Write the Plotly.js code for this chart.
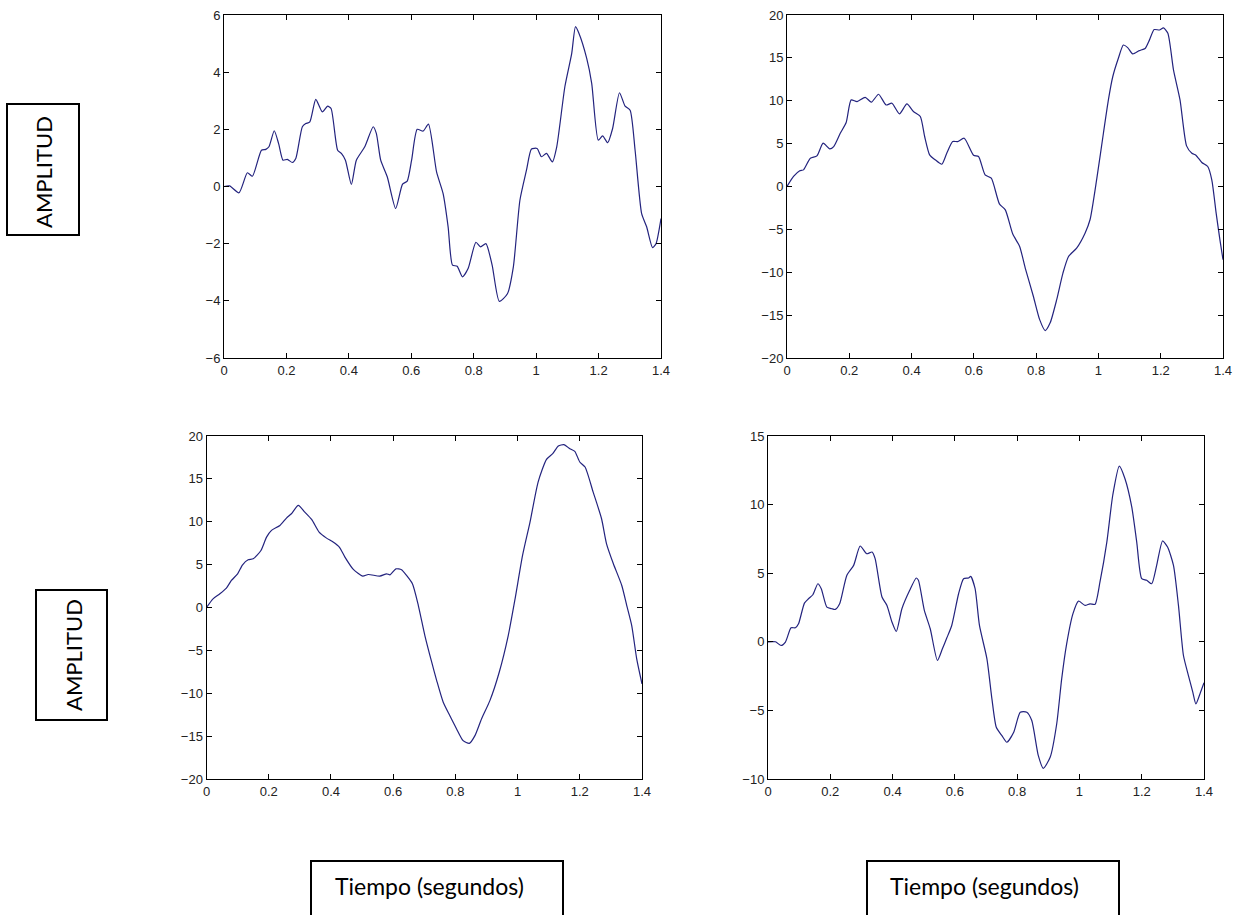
<!DOCTYPE html>
<html>
<head>
<meta charset="utf-8">
<script src="https://cdn.plot.ly/plotly-3.0.1.min.js"></script>
<style>html,body{margin:0;padding:0;background:#fff;}#chart{width:1236px;height:915px;}</style>
</head>
<body>
<div id="chart"></div>
<script>
// ---- Data ----
const tA = [0,0.018,0.048,0.075,0.091,0.12,0.134,0.144,0.161,0.175,0.189,0.203,0.219,0.23,0.251,0.262,0.275,0.294,0.315,0.332,0.343,0.364,0.376,0.389,0.408,0.424,0.451,0.478,0.488,0.502,0.523,0.55,0.572,0.587,0.601,0.619,0.638,0.655,0.681,0.702,0.718,0.732,0.747,0.764,0.782,0.807,0.822,0.839,0.859,0.882,0.908,0.927,0.948,0.969,0.985,1.003,1.017,1.033,1.052,1.066,1.092,1.114,1.126,1.137,1.162,1.178,1.199,1.213,1.229,1.245,1.267,1.285,1.301,1.317,1.338,1.354,1.373,1.384,1.4];
const yA = [0,0.02,-0.22,0.48,0.36,1.27,1.3,1.39,1.95,1.5,0.92,0.95,0.84,0.98,2.09,2.2,2.26,3.05,2.61,2.81,2.73,1.27,1.16,0.92,0.07,0.92,1.39,2.09,1.86,0.92,0.34,-0.77,0.08,0.19,0.92,2.0,1.94,2.18,0.51,-0.25,-1.41,-2.75,-2.79,-3.16,-2.87,-1.95,-2.11,-2.0,-2.75,-4.02,-3.75,-2.81,-0.48,0.57,1.31,1.33,1.04,1.16,0.86,1.39,3.49,4.66,5.59,5.36,4.48,3.61,1.62,1.77,1.53,2.03,3.28,2.81,2.67,1.27,-0.95,-1.41,-2.14,-2.0,-1.12];

const tB = [0,0.021,0.041,0.053,0.075,0.096,0.116,0.137,0.15,0.171,0.19,0.206,0.225,0.251,0.271,0.294,0.318,0.337,0.361,0.385,0.406,0.428,0.442,0.458,0.476,0.497,0.513,0.532,0.548,0.569,0.599,0.615,0.636,0.656,0.682,0.701,0.725,0.747,0.765,0.791,0.811,0.829,0.845,0.866,0.886,0.904,0.93,0.957,0.973,0.995,1.016,1.032,1.046,1.064,1.08,1.094,1.11,1.131,1.15,1.164,1.179,1.196,1.209,1.223,1.241,1.262,1.283,1.3,1.313,1.332,1.351,1.364,1.378,1.39,1.4];
const yB = [0,1.17,1.83,1.94,3.3,3.57,5.05,4.39,4.66,6.21,7.46,10.1,9.9,10.4,9.83,10.76,9.51,9.71,8.47,9.63,8.74,8.16,5.83,3.69,3.11,2.6,3.88,5.24,5.24,5.63,3.65,3.5,1.36,0.97,-2.02,-2.72,-5.55,-6.99,-9.51,-12.8,-15.5,-16.8,-15.9,-13.2,-10.1,-8.16,-7.18,-5.44,-3.88,0.97,6.21,10.1,12.8,14.95,16.5,16.2,15.46,15.84,16.1,17.1,18.3,18.25,18.5,17.86,13.6,10.1,4.74,3.88,3.65,2.8,2.33,0.78,-3.1,-6.2,-8.54];

const tC = [0,0.021,0.043,0.064,0.08,0.1,0.116,0.134,0.15,0.175,0.193,0.209,0.236,0.257,0.273,0.295,0.316,0.338,0.362,0.386,0.407,0.427,0.445,0.472,0.502,0.52,0.557,0.579,0.59,0.609,0.627,0.643,0.662,0.681,0.702,0.724,0.74,0.761,0.782,0.804,0.825,0.845,0.863,0.884,0.911,0.941,0.97,0.992,1.016,1.04,1.066,1.093,1.113,1.131,1.149,1.168,1.184,1.2,1.217,1.243,1.27,1.286,1.308,1.335,1.351,1.367,1.383,1.4];
const yC = [0,1.01,1.6,2.26,3.15,3.93,4.98,5.56,5.68,6.65,8.21,8.99,9.57,10.43,10.93,11.91,11.13,10.27,8.79,8.09,7.63,7.04,5.88,4.44,3.66,3.85,3.66,3.93,3.81,4.51,4.4,3.74,2.76,0.23,-3.27,-6.38,-8.52,-11.05,-12.6,-14.16,-15.53,-15.84,-14.94,-13.0,-10.86,-7.55,-3.27,1.01,6.07,9.96,14.63,17.28,17.94,18.83,18.99,18.52,18.21,16.97,16.38,13.46,10.35,7.43,5.1,2.57,0.23,-2.1,-5.99,-8.91];

const tD = [0,0.024,0.042,0.056,0.074,0.088,0.098,0.117,0.13,0.144,0.16,0.171,0.189,0.205,0.216,0.23,0.253,0.275,0.296,0.317,0.334,0.344,0.366,0.382,0.398,0.412,0.43,0.455,0.476,0.483,0.502,0.521,0.544,0.56,0.574,0.59,0.612,0.628,0.644,0.651,0.665,0.679,0.703,0.719,0.733,0.751,0.767,0.789,0.81,0.831,0.847,0.868,0.884,0.906,0.927,0.943,0.959,0.979,0.997,1.018,1.034,1.05,1.066,1.088,1.107,1.128,1.146,1.168,1.184,1.2,1.216,1.232,1.248,1.267,1.283,1.302,1.318,1.334,1.35,1.364,1.374,1.387,1.4];
const yD = [0,0,-0.27,-0.02,1.02,1.02,1.31,2.82,3.14,3.43,4.23,3.87,2.53,2.41,2.36,2.77,4.84,5.57,6.98,6.42,6.54,6.06,3.26,2.65,1.44,0.75,2.41,3.75,4.65,4.48,2.29,0.95,-1.36,-0.51,0.27,1.19,3.5,4.6,4.65,4.77,3.87,1.19,-1.24,-4.16,-6.23,-6.84,-7.32,-6.59,-5.13,-5.13,-5.74,-8.3,-9.22,-8.42,-5.99,-2.7,-0.15,2.04,2.97,2.65,2.77,2.73,4.36,7.27,10.68,12.8,11.9,9.83,7.27,4.6,4.48,4.23,5.57,7.35,6.91,5.57,2.65,-1.0,-2.46,-3.67,-4.53,-3.8,-2.99];

const xTicks = [0,0.2,0.4,0.6,0.8,1,1.2,1.4];
const yLabel = "AMPLITUD";
const xLabel = "Tiempo (segundos)";

// ---- Styling ----
const lineColor = '#23237e';
const tickFont = {family:'Liberation Sans, Arial, sans-serif', size:13, color:'#222'};
function axis(extra){
  return Object.assign({
    showline:true, linecolor:'#000', linewidth:1, mirror:'ticks',
    ticks:'inside', ticklen:5, tickcolor:'#000', tickwidth:1,
    showgrid:false, zeroline:false, tickfont:tickFont, fixedrange:true
  }, extra);
}
function trace(t, y, xa, ya){
  return {x:t, y:y, xaxis:xa, yaxis:ya, type:'scatter', mode:'lines',
          line:{color:lineColor, width:1.2, shape:'spline', smoothing:0.6},
          hoverinfo:'skip', showlegend:false};
}
const W = 1236, H = 915;
const px = v => v / W;
const py = v => 1 - v / H;

const data = [
  trace(tA, yA, 'x', 'y'),
  trace(tB, yB, 'x2', 'y2'),
  trace(tC, yC, 'x3', 'y3'),
  trace(tD, yD, 'x4', 'y4')
];

const labelFontY = {family:'Lato, Open Sans, sans-serif', size:22, color:'#000'};
const labelFontX = {family:'Lato, Open Sans, sans-serif', size:23, color:'#000'};
const xBase = {range:[0,1.4], tickvals:xTicks};
const layout = {
  width:W, height:H,
  margin:{l:0, r:0, t:0, b:0},
  paper_bgcolor:'#fff', plot_bgcolor:'#fff',
  showlegend:false,
  xaxis:  axis(Object.assign({domain:[px(224), px(661)], anchor:'y'}, xBase)),
  yaxis:  axis({domain:[py(358), py(15)], anchor:'x', range:[-6,6], dtick:2, tick0:0}),
  xaxis2: axis(Object.assign({domain:[px(787), px(1223)], anchor:'y2'}, xBase)),
  yaxis2: axis({domain:[py(358), py(15)], anchor:'x2', range:[-20,20], dtick:5, tick0:0}),
  xaxis3: axis(Object.assign({domain:[px(206.5), px(642)], anchor:'y3'}, xBase)),
  yaxis3: axis({domain:[py(779), py(436)], anchor:'x3', range:[-20,20], dtick:5, tick0:0}),
  xaxis4: axis(Object.assign({domain:[px(768), px(1204)], anchor:'y4'}, xBase)),
  yaxis4: axis({domain:[py(779), py(436)], anchor:'x4', range:[-10,15], dtick:5, tick0:0}),
  shapes:[
    {type:'rect', xref:'paper', yref:'paper', x0:px(7), x1:px(79), y0:py(235), y1:py(104), line:{color:'#000', width:2}},
    {type:'rect', xref:'paper', yref:'paper', x0:px(36), x1:px(107), y0:py(720), y1:py(590), line:{color:'#000', width:2}},
    {type:'rect', xref:'paper', yref:'paper', x0:px(311), x1:px(563), y0:py(925), y1:py(861), line:{color:'#000', width:2}},
    {type:'rect', xref:'paper', yref:'paper', x0:px(867), x1:px(1119), y0:py(925), y1:py(861), line:{color:'#000', width:2}}
  ],
  annotations:[
    {text:yLabel, xref:'paper', yref:'paper', x:px(43), y:py(172), textangle:-90, showarrow:false,
     xanchor:'center', yanchor:'middle', font:labelFontY},
    {text:yLabel, xref:'paper', yref:'paper', x:px(73), y:py(655), textangle:-90, showarrow:false,
     xanchor:'center', yanchor:'middle', font:labelFontY},
    {text:xLabel, xref:'paper', yref:'paper', x:px(333), y:py(886), showarrow:false,
     xanchor:'left', yanchor:'middle', font:labelFontX},
    {text:xLabel, xref:'paper', yref:'paper', x:px(888), y:py(886), showarrow:false,
     xanchor:'left', yanchor:'middle', font:labelFontX}
  ]
};
Plotly.newPlot('chart', data, layout, {staticPlot:true, displayModeBar:false});
</script>
</body>
</html>
